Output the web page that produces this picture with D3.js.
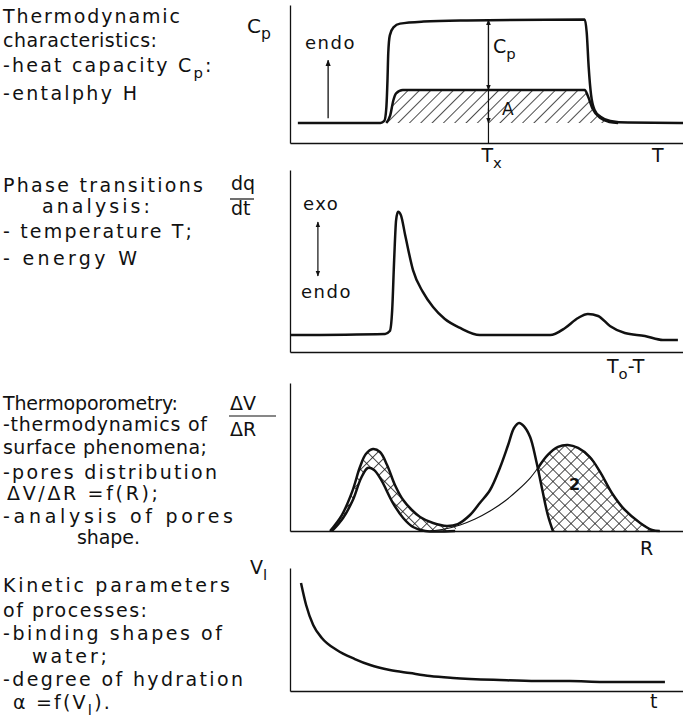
<!DOCTYPE html>
<html>
<head>
<meta charset="utf-8">
<script src="https://cdn.jsdelivr.net/npm/d3@7"></script>
<style>
  body { margin: 0; background: #fff; }
  svg { display: block; }
  text { font-family: "DejaVu Sans", sans-serif; fill: #111; }
</style>
</head>
<body>
<svg id="fig" width="683" height="720"></svg>
<script>
// ---- data (arbitrary units, x 0..100, y 0..100 in every panel) ----
// panel 1: heat capacity step and enthalpy area
const cpCurve = [[2,14.5],[23,14.5],[24,16],[24.5,25],[24.8,45],[25,65],[25.4,78],[26.4,84],[28,86.5],[34,88],[45,88.8],[75,89.5],[75.5,80],[76,55],[76.6,35],[77.5,24],[79,19],[81.5,16],[86,14.8],[100,14.5]];
const enthalpyTop = [[24.5,14.5],[25.5,20],[26.3,31],[27,36],[28.7,38.4],[75,38.4],[75.8,34],[76.9,25.4],[79,18],[81.3,15.2],[83.5,14.5]];
const cpBase = 14.5;
const tx = 50.5;

// panel 2: DSC trace
const dscCurve = [[0,9.3],[24.2,9.9],[25.4,11.5],[26,23],[26.5,50.5],[27,72.5],[27.5,77],[28.2,75.3],[29.3,64.3],[31.3,45],[33.8,33],[36.4,24.7],[39.4,18.1],[43.3,13.2],[48.3,9.3],[66.2,9.3],[70,13.2],[73.3,18.7],[75.8,20.9],[78.4,19.8],[81.4,14.3],[85.2,10.4],[90.3,8.8],[94.9,6.6],[98.7,6.6]];

// panel 3: pore size distribution
const poreUpper = [[10.2,0],[13.2,10.8],[15.8,26.4],[17.8,43.2],[19.3,52],[21.1,55.4],[22.9,53.4],[24.7,44.6],[26.7,31.1],[28.8,20.9],[31,14.2],[33.1,9.5],[36.4,5.4],[39.9,3.4],[42.7,4.7],[45.8,10.8],[48.3,18.9],[50.9,27.7],[53.4,42.6],[55.5,58.1],[57,69.6],[58.3,73],[59.5,70.9],[61.1,63.5],[62.6,48],[64.1,29.1],[65.6,10.8],[66.9,0]];
const poreLower = [[10.7,0],[13.5,8.8],[16,20.9],[18.1,35.8],[19.8,42.6],[21.4,41.2],[23.2,34.5],[26.2,18.9],[28.8,8.8],[31.3,2.7],[34.4,0],[42,0]];
const poreThin = [[35.6,0],[39.4,1.4],[43.3,4.1],[47.1,8.1],[50.9,13.5],[54.7,20.3],[58,27.7],[61.1,35.8],[63.1,42.6],[65.6,51.4],[68.2,56.8],[70.7,58.1],[73.3,56.1],[76.3,50],[78.9,39.9],[81.9,25.7],[85.2,14.2],[89.1,5.4],[92.1,0.7],[94.1,0]];
const poreSplit = 62.8;

// panel 4: kinetic curve
const kineticCurve = [[2.8,87.8],[4.1,69.9],[5.9,53.7],[8.1,43.1],[11.9,33.3],[16.5,26],[20.4,21.1],[25.4,17.1],[30.5,14.6],[35.6,12.2],[41.5,10.6],[53.4,8.9],[62.8,8.1],[71.2,8.1],[79.6,7.3],[89.1,7.3],[95.4,7.3]];

// left column texts
const block1 = ["Thermodynamic", "characteristics:", "-heat capacity C_p:", "-entalphy H"];
const block2 = ["Phase transitions", "analysis:", "- temperature T;", "- energy W"];
const block3 = ["Thermoporometry:", "-thermodynamics of", "surface phenomena;", "-pores distribution", "ΔV/ΔR =f(R);", "-analysis of pores", "shape."];
const block4 = ["Kinetic parameters", "of processes:", "-binding shapes of", "water;", "-degree of hydration", "α =f(V_l)."];

// ---- layout ----
const W = 683;
const panels = [
  { top: 5, bottom: 143 },
  { top: 170, bottom: 352 },
  { top: 383, bottom: 531 },
  { top: 568, bottom: 691 }
];
// [x, baseline, textLength]
const layout1 = [[3,23,177],[3,47,154],[3,72,0],[3,100,134]];
const layout2 = [[3,192,200],[42,213,108],[3,238,189],[3,265,134]];
const layout3 = [[3,410,175],[3,431,204],[3,454,204],[3,479,214],[7,500,151],[3,523,230],[77,544,63]];
const layout4 = [[3,592,227],[3,617,144],[3,640,219],[32,663,75],[3,686,240],[13,709,0]];

const svg = d3.select("#fig");
const defs = svg.append("defs");

const hatch = defs.append("pattern")
  .attr("id", "hatch")
  .attr("patternUnits", "userSpaceOnUse")
  .attr("width", 8).attr("height", 8)
  .attr("patternTransform", "rotate(45)");
hatch.append("line")
  .attr("x1", 0).attr("y1", 0).attr("x2", 0).attr("y2", 8)
  .attr("stroke", "#111").attr("stroke-width", 1.5);

const cross = defs.append("pattern")
  .attr("id", "cross")
  .attr("patternUnits", "userSpaceOnUse")
  .attr("width", 8.5).attr("height", 8.5)
  .attr("patternTransform", "rotate(45)");
cross.append("line")
  .attr("x1", 0).attr("y1", 0).attr("x2", 0).attr("y2", 8.5)
  .attr("stroke", "#111").attr("stroke-width", 1.5);
cross.append("line")
  .attr("x1", 0).attr("y1", 0).attr("x2", 8.5).attr("y2", 0)
  .attr("stroke", "#111").attr("stroke-width", 1.5);

defs.append("marker")
  .attr("id", "arrow")
  .attr("viewBox", "0 0 10 10")
  .attr("refX", 9).attr("refY", 5)
  .attr("markerWidth", 5).attr("markerHeight", 5)
  .attr("orient", "auto-start-reverse")
  .append("path")
  .attr("d", "M0,1L10,5L0,9z")
  .attr("fill", "#111");

const x = d3.scaleLinear().domain([0, 100]).range([290, W]);
const ys = panels.map(p => d3.scaleLinear().domain([0, 100]).range([p.bottom, p.top]));

// text with "_c" subscripts
function rich(g, str, px, py, size, len, spacing) {
  const t = g.append("text")
    .attr("x", px).attr("y", py)
    .attr("font-size", size);
  if (len) {
    t.text(str).attr("textLength", len).attr("lengthAdjust", "spacing");
    return t;
  }
  if (spacing) t.attr("letter-spacing", spacing);
  const parts = str.split(/_(.)/);
  parts.forEach((s, i) => {
    if (!s) return;
    const sub = i % 2 === 1;
    t.append("tspan")
      .attr("dy", sub ? size * 0.3 : (i > 0 ? -size * 0.3 : 0))
      .attr("font-size", sub ? size * 0.78 : size)
      .text(s);
  });
  return t;
}

const txt = svg.append("g");
[[block1, layout1], [block2, layout2], [block3, layout3], [block4, layout4]].forEach(([lines, lay]) => {
  lines.forEach((s, i) => {
    const [lx, ly, len] = lay[i];
    rich(txt, s, lx, ly, 19, len, 2.2);
  });
});

// axes
panels.forEach((p, i) => {
  const g = svg.append("g").attr("class", "axes");
  g.append("g")
    .attr("transform", `translate(0,${p.bottom})`)
    .call(d3.axisBottom(x).tickValues([]).tickSizeOuter(0));
  g.append("g")
    .attr("transform", `translate(${x(0)},0)`)
    .call(d3.axisLeft(ys[i]).tickValues([]).tickSizeOuter(0));
});
svg.selectAll(".axes .domain").attr("stroke", "#111").attr("stroke-width", 1.3);

const thick = 2.5;

// ---- panel 1 ----
{
  const y = ys[0];
  const line = d3.line().x(d => x(d[0])).y(d => y(d[1])).curve(d3.curveMonotoneX);
  const area = d3.area().x(d => x(d[0])).y0(y(cpBase)).y1(d => y(d[1])).curve(d3.curveMonotoneX);
  svg.append("path").attr("d", area(enthalpyTop)).attr("fill", "url(#hatch)");
  svg.append("path").attr("d", line(enthalpyTop)).attr("fill", "none").attr("stroke", "#111").attr("stroke-width", thick);
  svg.append("path").attr("d", line(cpCurve)).attr("fill", "none").attr("stroke", "#111").attr("stroke-width", thick);
  svg.append("line")
    .attr("x1", x(tx)).attr("x2", x(tx))
    .attr("y1", y(89.3)).attr("y2", y(0))
    .attr("stroke", "#111").attr("stroke-width", 1.2);
  svg.append("line")
    .attr("x1", x(tx)).attr("x2", x(tx))
    .attr("y1", y(60)).attr("y2", y(89.3))
    .attr("stroke", "#111").attr("stroke-width", 1.2)
    .attr("marker-end", "url(#arrow)");
  svg.append("line")
    .attr("x1", x(tx)).attr("x2", x(tx))
    .attr("y1", y(60)).attr("y2", y(38.4))
    .attr("stroke", "#111").attr("stroke-width", 1.2)
    .attr("marker-end", "url(#arrow)");
  svg.append("line")
    .attr("x1", x(tx)).attr("x2", x(tx))
    .attr("y1", y(25)).attr("y2", y(cpBase))
    .attr("stroke", "#111").attr("stroke-width", 1.2)
    .attr("marker-end", "url(#arrow)");
  // endo arrow
  svg.append("line")
    .attr("x1", x(9.7)).attr("x2", x(9.7))
    .attr("y1", y(18)).attr("y2", y(60))
    .attr("stroke", "#111").attr("stroke-width", 1.3)
    .attr("marker-end", "url(#arrow)");
  rich(svg, "endo", 305, 49, 18, 0, 1.5);
  rich(svg, "C_p", 493, 53, 19, 0, 0);
  rich(svg, "A", 502, 115, 17, 0, 0);
  rich(svg, "C_p", 247, 33, 20, 0, 0);
  rich(svg, "T_x", x(tx) - 7, 162, 19, 0, 0);
  rich(svg, "T", 652, 162, 19, 0, 0);
}

// ---- panel 2 ----
{
  const y = ys[1];
  const line = d3.line().x(d => x(d[0])).y(d => y(d[1])).curve(d3.curveMonotoneX);
  svg.append("path").attr("d", line(dscCurve)).attr("fill", "none").attr("stroke", "#111").attr("stroke-width", thick);
  svg.append("line")
    .attr("x1", x(7.1)).attr("x2", x(7.1))
    .attr("y1", y(71.4)).attr("y2", y(41.8))
    .attr("stroke", "#111").attr("stroke-width", 1.2)
    .attr("marker-start", "url(#arrow)")
    .attr("marker-end", "url(#arrow)");
  rich(svg, "exo", 303, 210, 18, 0, 1.5);
  rich(svg, "endo", 301, 298, 18, 0, 1.5);
  rich(svg, "dq", 231, 190, 19, 0, 0);
  svg.append("line").attr("x1", 230).attr("x2", 254).attr("y1", 199).attr("y2", 199).attr("stroke", "#111").attr("stroke-width", 1.2);
  rich(svg, "dt", 231, 215, 19, 0, 0);
  rich(svg, "T_o-T", 607, 373, 19, 0, 0);
}

// ---- panel 3 ----
{
  const y = ys[2];
  const line = d3.line().x(d => x(d[0])).y(d => y(d[1])).curve(d3.curveCatmullRom.alpha(0.5));
  const upLeft = poreUpper.filter(d => d[0] <= 42.7);
  const leftPoly = line(upLeft) + line(poreLower.slice().reverse()).replace(/^M/, "L") + "Z";
  svg.append("path").attr("d", leftPoly).attr("fill", "url(#cross)");
  const thinRight = poreThin.filter(d => d[0] >= poreSplit);
  const upRight = poreUpper.filter(d => d[0] >= poreSplit - 0.4).reverse();
  const rightPoly = line(thinRight) + line(upRight).replace(/^M/, "L") + "Z";
  svg.append("path").attr("d", rightPoly).attr("fill", "url(#cross)");

  svg.append("path").attr("d", line(poreThin)).attr("fill", "none").attr("stroke", "#111").attr("stroke-width", 1.1);
  svg.append("path").attr("d", line(thinRight)).attr("fill", "none").attr("stroke", "#111").attr("stroke-width", thick);
  svg.append("path").attr("d", line(poreLower)).attr("fill", "none").attr("stroke", "#111").attr("stroke-width", thick);
  svg.append("path").attr("d", line(poreUpper)).attr("fill", "none").attr("stroke", "#111").attr("stroke-width", thick);
  rich(svg, "2", 569, 490, 16, 0, 0).attr("font-weight", "bold");

  rich(svg, "ΔV", 230, 410, 19, 0, 0);
  svg.append("line").attr("x1", 229).attr("x2", 276).attr("y1", 416).attr("y2", 416).attr("stroke", "#111").attr("stroke-width", 1.2);
  rich(svg, "ΔR", 230, 436, 19, 0, 0);
  rich(svg, "R", 640, 555, 19, 0, 0);
}

// ---- panel 4 ----
{
  const y = ys[3];
  const line = d3.line().x(d => x(d[0])).y(d => y(d[1])).curve(d3.curveMonotoneX);
  svg.append("path").attr("d", line(kineticCurve)).attr("fill", "none").attr("stroke", "#111").attr("stroke-width", thick);
  rich(svg, "V_l", 250, 574, 19, 0, 0);
  rich(svg, "t", 650, 708, 19, 0, 0);
}
</script>
</body>
</html>
